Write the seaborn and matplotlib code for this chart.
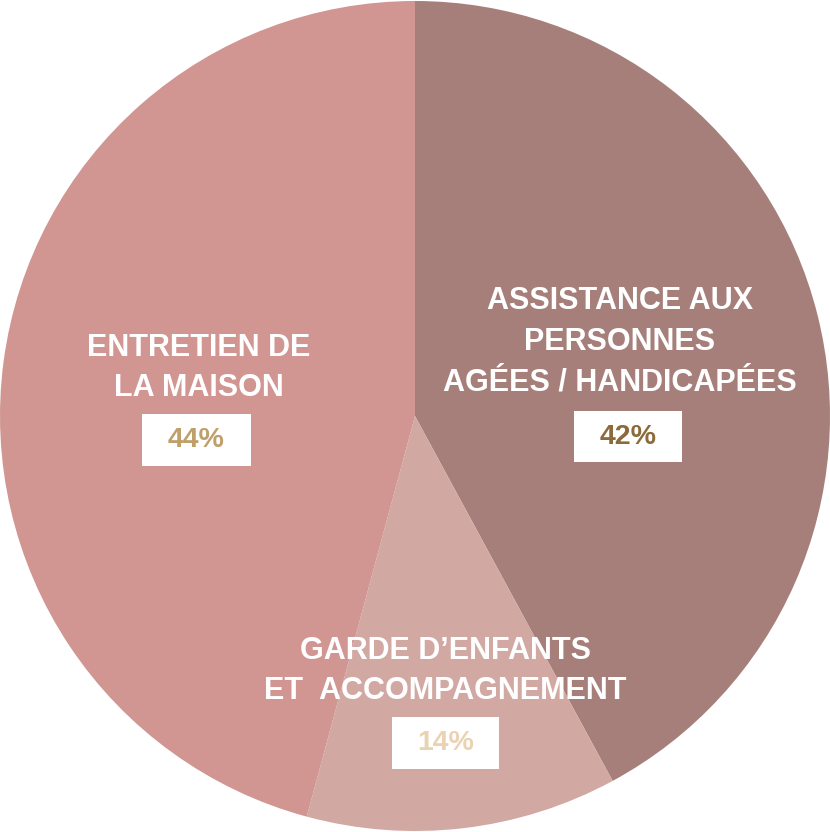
import matplotlib
matplotlib.use("Agg")
import matplotlib.pyplot as plt
import seaborn as sns
from matplotlib.patches import Rectangle

sns.set_theme(style="white")
plt.rcParams['font.family'] = ['Liberation Sans', 'DejaVu Sans']

categories = ["ASSISTANCE AUX\nPERSONNES\nAGÉES / HANDICAPÉES",
              "GARDE D’ENFANTS\nET  ACCOMPAGNEMENT",
              "ENTRETIEN DE\nLA MAISON"]
# slice shares as drawn in the picture (arc measured), and printed labels
slice_shares = [42.1, 12.1, 45.8]
pct_labels = ["42%", "14%", "44%"]
slice_colors = ["#A67F7A", "#D2A8A3", "#D19592"]
pct_colors = ["#8C6A3C", "#EAD3B3", "#BFA06B"]

W, H = 830, 832
fig = plt.figure(figsize=(W / 100, H / 100), dpi=100)
ax = fig.add_axes([0, 0, 1, 1])

cx, cy, r = 415, H - 416, 415
ax.pie(slice_shares, colors=slice_colors, startangle=90, counterclock=False,
       center=(cx, cy), radius=r, frame=True,
       wedgeprops=dict(linewidth=0))
ax.set_xlim(0, W)
ax.set_ylim(0, H)
ax.set_aspect("equal")
ax.axis("off")

# label layout (pixel coords, y from top)
label_pos = [(620, 342), (445, 671), (199, 368)]
box_pos = [(574, 411, 108, 51), (392, 717, 107, 52), (142, 414, 109, 52)]

for cat, (lx, ly) in zip(categories, label_pos):
    ax.text(lx, H - ly, cat, ha="center", va="center", color="white",
            fontsize=22, fontweight="bold", linespacing=1.47)

for pct, col, (bx, by, bw, bh) in zip(pct_labels, pct_colors, box_pos):
    ax.add_patch(Rectangle((bx, H - by - bh), bw, bh, facecolor="white",
                           edgecolor="none", zorder=3))
    ax.text(bx + bw / 2, H - by - bh / 2, pct, ha="center", va="center",
            color=col, fontsize=20.5, fontweight="bold", zorder=4)

fig.savefig("out.png", dpi=100, facecolor="white")
